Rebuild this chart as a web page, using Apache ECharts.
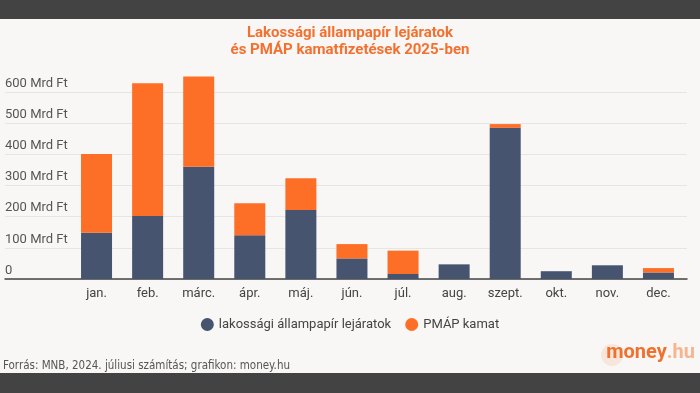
<!DOCTYPE html>
<html><head><meta charset="utf-8">
<script src="https://cdn.jsdelivr.net/npm/echarts@6/dist/echarts.min.js"></script>
<style>html,body{margin:0;padding:0;background:#f8f7f5}#c{width:700px;height:393px}</style>
</head><body><div id="c"></div>
<script>
const categories = ['jan.','feb.','márc.','ápr.','máj.','jún.','júl.','aug.','szept.','okt.','nov.','dec.'];
const lejaratok = [148, 202, 360, 140, 221, 66, 16, 47, 485, 25, 44, 21];
const pmapKamat = [253, 426, 290, 103, 102, 46, 75, 0, 12, 0, 0, 14];
const yTicks = [0, 100, 200, 300, 400, 500, 600];
const seriesNames = ['lakossági állampapír lejáratok', 'PMÁP kamat'];
const titleLines = ['Lakossági állampapír lejáratok', 'és PMÁP kamatfizetések 2025-ben'];
const source = 'Forrás: MNB, 2024. júliusi számítás; grafikon: money.hu';

const BLUE = '#465470', ORANGE = '#fd6e26';
const chart = echarts.init(document.getElementById('c'));
const FONT = 'Roboto';
chart.setOption({
  backgroundColor: '#f8f7f5',
  animation: false,
  title: {
    text: titleLines.join('\n'), left: 'center', top: 20,
    textStyle: {color: '#f4702f', fontSize: 15, fontWeight: 'bold', fontFamily: FONT, lineHeight: 17}
  },
  legend: {
    bottom: 57, left: 'center', itemGap: 14, icon: 'circle', itemWidth: 13, itemHeight: 13,
    textStyle: {color: '#444', fontSize: 13, fontFamily: FONT},
    data: seriesNames
  },
  grid: [
    {left: 5, right: 13, top: 92, bottom: 114},
    {left: 71, right: 16, top: 92, bottom: 114}
  ],
  xAxis: [
    {gridIndex: 0, type: 'category', data: categories, axisLabel: {show: false}, axisTick: {show: false},
     axisLine: {show: true, lineStyle: {color: '#444', width: 1.5}}},
    {gridIndex: 1, type: 'category', data: categories, axisTick: {show: false}, axisLine: {show: false},
     axisLabel: {color: '#444', fontSize: 13, fontFamily: FONT, margin: 8}}
  ],
  yAxis: [
    {gridIndex: 0, type: 'value', min: 0, max: 600, interval: 100,
     axisLine: {show: false}, axisTick: {show: false},
     splitLine: {lineStyle: {color: '#e6e5e2', width: 1}},
     axisLabel: {inside: true, margin: 0, verticalAlign: 'bottom', color: '#555', fontSize: 13, fontFamily: FONT,
       padding: [0, 0, 2, 0],
       formatter: v => yTicks.includes(v) ? (v === 0 ? '0' : v + ' Mrd Ft') : ''}},
    {gridIndex: 1, type: 'value', min: 0, max: 600, interval: 100, show: false}
  ],
  series: [
    {name: seriesNames[0], type: 'bar', stack: 's', xAxisIndex: 1, yAxisIndex: 1, data: lejaratok,
     barWidth: 31, itemStyle: {color: BLUE}, clip: false},
    {name: seriesNames[1], type: 'bar', stack: 's', xAxisIndex: 1, yAxisIndex: 1, data: pmapKamat,
     barWidth: 31, itemStyle: {color: ORANGE}, clip: false}
  ],
  graphic: [
    {type: 'rect', left: 0, top: 0, shape: {width: 700, height: 19}, style: {fill: '#434343'}, z: 100},
    {type: 'rect', left: 0, top: 373, shape: {width: 700, height: 20}, style: {fill: '#434343'}, z: 100},
    {type: 'text', left: 3, top: 360, style: {text: source, fill: '#555', fontSize: 11.5,
      fontFamily: '"Liberation Sans Narrow", "DejaVu Sans Condensed", sans-serif'}},
    {type: 'circle', shape: {cx: 612, cy: 355, r: 11}, style: {fill: 'rgba(253,110,38,0.12)'}},
    {type: 'text', right: 5, top: 343, style: {
      text: '{a|money}{b|.hu}',
      rich: {
        a: {fill: '#f0712e', fontSize: 20, fontWeight: 'bold', fontFamily: FONT},
        b: {fill: '#f7b48f', fontSize: 20, fontWeight: 'bold', fontFamily: FONT}
      }}}
  ]
});
</script></body></html>
